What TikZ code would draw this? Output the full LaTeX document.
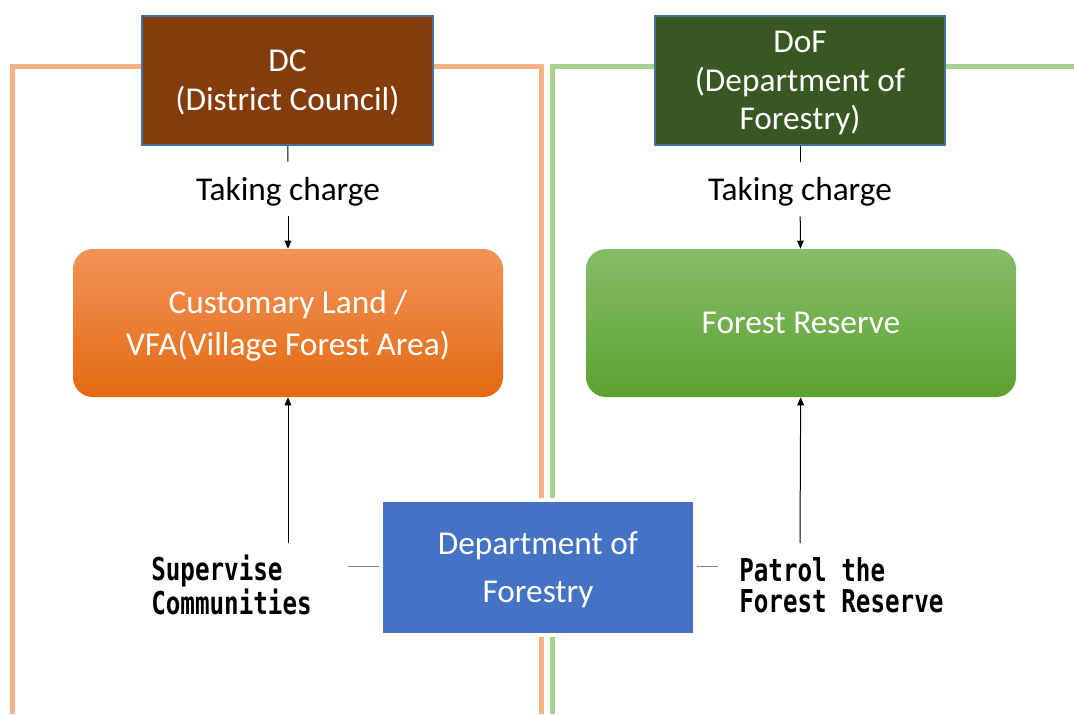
\documentclass[tikz,border=0pt]{standalone}
\usepackage{fontspec}
\setmainfont{Carlito}
\newfontfamily\gothicfont{DejaVu Sans Mono}[FakeStretch=0.77]
\usetikzlibrary{positioning,arrows.meta}
\definecolor{dcbrown}{HTML}{843C0C}
\definecolor{dofgreen}{HTML}{385723}
\definecolor{edgeblue}{HTML}{41719C}
\definecolor{frameorange}{HTML}{F4B183}
\definecolor{framegreen}{HTML}{A9D18E}
\definecolor{orangetop}{HTML}{F29358}
\definecolor{orangebot}{HTML}{E36A12}
\definecolor{greentop}{HTML}{86BD68}
\definecolor{greenbot}{HTML}{5EA132}
\definecolor{deptblue}{HTML}{4472C4}

\begin{document}
\begin{tikzpicture}[x=0.75pt, y=-0.75pt,
    headbox/.style={draw=edgeblue, line width=1.5pt, text=white, minimum width=218pt,
      minimum height=97pt, text depth=0pt, align=center, font=\fontsize{25}{29}\selectfont},
    areabox/.style={rounded corners=15pt, text=white, minimum width=322.5pt,
      minimum height=111pt, text depth=0pt, align=center, font=\fontsize{25}{31.5}\selectfont},
    charge/.style={minimum height=40.5pt, inner sep=0pt, text depth=0pt, font=\fontsize{25}{30}\selectfont},
    duty/.style={align=left, inner sep=0pt, font=\gothicfont\bfseries\fontsize{23.6}{23.25}\selectfont},
    arrow/.style={-{Triangle[length=6pt,width=5pt]}, line width=0.75pt},
    tick/.style={draw=gray, line width=0.75pt}]
    \useasboundingbox (0,0) rectangle (1074,714);
    % the two frames
    \draw[frameorange, line width=3.75pt] (12.5,714) -- (12.5,66.5) -- (541.5,66.5) -- (541.5,714);
    \draw[framegreen, line width=3.75pt] (552.5,714) -- (552.5,66.5) -- (1074,66.5);
    % heads
    \node[headbox, fill=dcbrown] (dc) at (287.5,80.5) {DC\\(District Council)};
    \node[headbox, fill=dofgreen] (dof) at (800,80.5) {DoF\\(Department of\\Forestry)};
    % areas
    \node[areabox, top color=orangetop, bottom color=orangebot] (cl) at (288,323) {Customary Land /\\VFA(Village Forest Area)};
    \node[areabox, top color=greentop, bottom color=greenbot] (fr) at (801,323) {Forest Reserve};
    \node[draw=white, line width=3pt, fill=deptblue, text=white, minimum width=235.5pt, text depth=0pt,
      minimum height=101.25pt, align=center, font=\fontsize{25}{36}\selectfont] (dept) at (538,567.5) {Department of\\Forestry};
    % taking charge
    \node[charge] (tcdc) at (288,189) {Taking charge};
    \node[charge] (tcdof) at (800,189) {Taking charge};
    \draw[line width=0.75pt] (dc) -- (tcdc);
    \draw[arrow] (tcdc) -- (cl);
    \draw[line width=0.75pt] (dof) -- (tcdof);
    \draw[arrow] (tcdof) -- (fr);
    % duties of the department
    \node[duty, anchor=west] (sup) at (151,585) {Supervise\\Communities};
    \node[duty, anchor=west] (pat) at (739,585) {Patrol the\\Forest Reserve};
    \coordinate (supfoot) at (288,543);
    \coordinate (patfoot) at (800,543);
    \coordinate (supend) at (348,566);
    \coordinate (patend) at (718,566);
    \draw[arrow] (supfoot) -- (cl);
    \draw[arrow] (patfoot) -- (fr);
    \draw[tick] (dept.west |- supend) -- (supend);
    \draw[tick] (dept.east |- patend) -- (patend);
\end{tikzpicture}
\end{document}
